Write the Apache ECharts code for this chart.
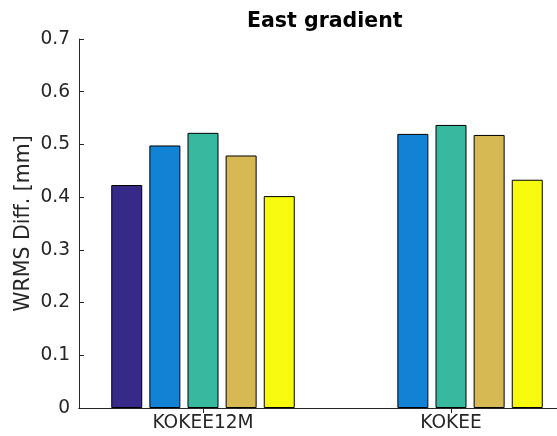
<!DOCTYPE html>
<html>
<head>
<meta charset="utf-8">
<script src="https://cdn.jsdelivr.net/npm/echarts@6/dist/echarts.min.js"></script>
<style>
  html, body { margin: 0; padding: 0; background: #fff; }
  #chart { width: 557px; height: 436px; }
</style>
</head>
<body>
<div id="chart"></div>
<script>
// Stations on the x axis
const stations = ['KOKEE12M', 'KOKEE'];

// WRMS differences per solution (mm); '-' marks a missing bar
const series1 = [0.423, '-'];
const series2 = [0.498, 0.520];
const series3 = [0.522, 0.537];
const series4 = [0.479, 0.518];
const series5 = [0.402, 0.433];

const yTicks = [0, 0.1, 0.2, 0.3, 0.4, 0.5, 0.6, 0.7];

const colors = ['#352A87', '#1283D4', '#36B99F', '#D7B954', '#F8FA0D'];
const ink = '#262626';
const font = 'DejaVu Sans';

const chart = echarts.init(document.getElementById('chart'), null, { renderer: 'canvas' });

const allSeries = [series1, series2, series3, series4, series5].map((d, i) => ({
  type: 'bar',
  data: d,
  xAxisIndex: 0,
  yAxisIndex: 0,
  barWidth: 31,
  barGap: '23%',
  itemStyle: { color: colors[i], borderColor: '#000', borderWidth: 1 },
  emphasis: { disabled: true },
  animation: false
}));

const axisLineStyle = { color: ink, width: 1 };

chart.setOption({
  animation: false,
  title: {
    text: 'East gradient',
    left: 242,
    top: 6,
    textStyle: { fontFamily: font, fontSize: 20.5, fontWeight: 'bold', color: '#000' }
  },
  // The plot box runs past the right edge of the canvas
  grid: { left: 79, top: 39, width: 496, height: 369, containLabel: false, outerBoundsMode: 'none' },
  xAxis: [
    {
      type: 'category',
      data: stations,
      position: 'bottom',
      axisLine: { show: true, lineStyle: axisLineStyle },
      axisTick: { show: true, inside: true, alignWithLabel: true, length: 5, lineStyle: axisLineStyle },
      axisLabel: { fontFamily: font, fontSize: 18.6, color: ink, margin: 6 },
      splitLine: { show: false }
    },
    {
      type: 'category',
      data: stations,
      position: 'top',
      axisLine: { show: true, lineStyle: axisLineStyle },
      axisTick: { show: true, inside: true, alignWithLabel: true, length: 5, lineStyle: axisLineStyle },
      axisLabel: { show: false },
      splitLine: { show: false }
    }
  ],
  yAxis: [
    {
      type: 'value',
      min: 0,
      max: 0.7,
      interval: 0.1,
      position: 'left',
      name: 'WRMS Diff. [mm]',
      nameLocation: 'middle',
      nameGap: 45,
      nameMoveOverlap: false,
      nameTextStyle: { fontFamily: font, fontSize: 20.5, color: ink },
      axisLine: { show: true, lineStyle: axisLineStyle },
      axisTick: { show: true, inside: true, length: 5, lineStyle: axisLineStyle },
      axisLabel: {
        fontFamily: font, fontSize: 18.6, color: ink, margin: 9,
        formatter: v => (yTicks.some(t => Math.abs(t - v) < 1e-9) ? (v === 0 ? '0' : v.toFixed(1)) : '')
      },
      splitLine: { show: false }
    },
    {
      type: 'value',
      min: 0,
      max: 0.7,
      interval: 0.1,
      position: 'right',
      axisLine: { show: true, lineStyle: axisLineStyle },
      axisTick: { show: true, inside: true, length: 5, lineStyle: axisLineStyle },
      axisLabel: { show: false },
      splitLine: { show: false }
    }
  ],
  series: allSeries
});
</script>
</body>
</html>
